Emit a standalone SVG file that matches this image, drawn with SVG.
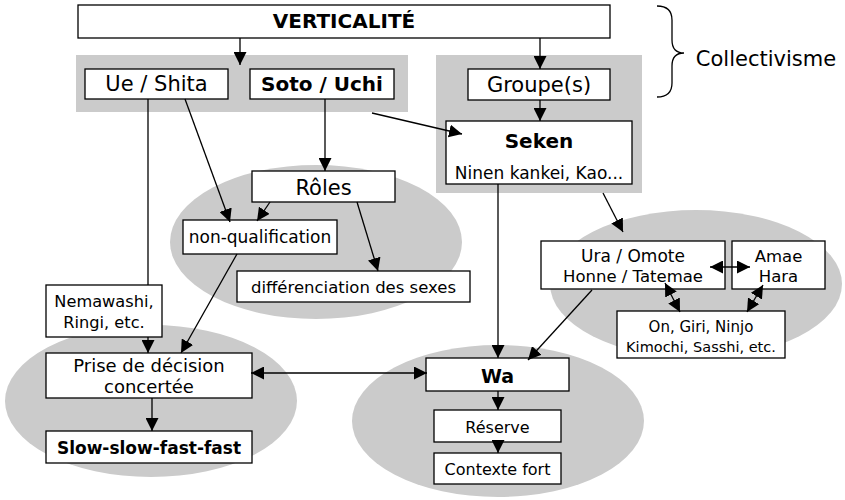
<svg xmlns="http://www.w3.org/2000/svg" width="845" height="500" viewBox="0 0 845 500">
<style>
.bg{fill:#cbcbcb;stroke:none}
.box{fill:#fff;stroke:#000;stroke-width:1.3}
text{font-family:"DejaVu Sans",Verdana,sans-serif;fill:#000;text-anchor:middle}
.b{font-weight:bold}
.c{stroke:#000;stroke-width:1.3;fill:none}
.a{marker-end:url(#ah)}
.d{marker-end:url(#ah);marker-start:url(#ah)}
</style>
<defs>
<marker id="ah" markerUnits="userSpaceOnUse" markerWidth="13" markerHeight="13" refX="13" refY="6.5" orient="auto-start-reverse">
<path d="M0,0 L13,6.5 L0,13 z" fill="#000"/>
</marker>
</defs>
<g id="backgrounds">
<rect class="bg" x="76" y="55" width="332" height="57"/>
<rect class="bg" x="436" y="55" width="206" height="138"/>
<ellipse class="bg" cx="316" cy="242" rx="146" ry="77"/>
<ellipse class="bg" cx="696" cy="284" rx="146" ry="74"/>
<ellipse class="bg" cx="151" cy="401" rx="146" ry="76"/>
<ellipse class="bg" cx="498" cy="421" rx="146" ry="76"/>
</g>
<g id="verticalite"><rect class="box" x="78" y="5" width="532" height="33"/><text class="b" x="344" y="28" font-size="20">VERTICALITÉ</text></g>
<g id="ue-shita"><rect class="box" x="85" y="69" width="143" height="30"/><text x="156.5" y="91" font-size="21">Ue / Shita</text></g>
<g id="soto-uchi"><rect class="box" x="250" y="69" width="144" height="30"/><text class="b" x="322" y="91" font-size="20">Soto / Uchi</text></g>
<g id="groupes"><rect class="box" x="468" y="69" width="142" height="31"/><text x="539" y="92" font-size="21">Groupe(s)</text></g>
<g id="seken"><rect class="box" x="446" y="121" width="186" height="63"/><text class="b" x="539" y="148" font-size="20">Seken</text><text x="539" y="179" font-size="17">Ninen kankei, Kao...</text></g>
<g id="collectivisme"><path class="c" d="M657,6 Q672,6 672,20 L672,40 Q672,53 684,53 Q672,53 672,66 L672,83 Q672,97 657,97"/><text x="766" y="66" font-size="21">Collectivisme</text></g>
<g id="roles"><rect class="box" x="252" y="171" width="143" height="31"/><text x="323.5" y="195" font-size="21">Rôles</text></g>
<g id="non-qualification"><rect class="box" x="183" y="220" width="154" height="34"/><text x="260" y="243" font-size="17">non-qualification</text></g>
<g id="differenciation"><rect class="box" x="237" y="271" width="233" height="31"/><text x="353.5" y="293" font-size="16.5">différenciation des sexes</text></g>
<g id="nemawashi"><rect class="box" x="46" y="285" width="116" height="52"/><text x="104" y="307" font-size="16.2">Nemawashi,</text><text x="104" y="328" font-size="16.2">Ringi, etc.</text></g>
<g id="prise"><rect class="box" x="46" y="353" width="206" height="45"/><text x="149" y="372" font-size="18">Prise de décision</text><text x="149" y="393" font-size="18">concertée</text></g>
<g id="slow"><rect class="box" x="46" y="431" width="206" height="32"/><text class="b" x="149" y="454" font-size="17">Slow-slow-fast-fast</text></g>
<g id="wa"><rect class="box" x="426" y="358" width="143" height="33"/><text class="b" x="497.5" y="383" font-size="19">Wa</text></g>
<g id="reserve"><rect class="box" x="434" y="410" width="127" height="32"/><text x="497.5" y="433" font-size="16">Réserve</text></g>
<g id="contexte"><rect class="box" x="434" y="453" width="127" height="31"/><text x="497.5" y="475" font-size="16">Contexte fort</text></g>
<g id="ura-omote"><rect class="box" x="541" y="241" width="184" height="48"/><text x="633" y="262" font-size="17">Ura / Omote</text><text x="633" y="282" font-size="16.5">Honne / Tatemae</text></g>
<g id="amae"><rect class="box" x="732" y="241" width="93" height="48"/><text x="778.5" y="262" font-size="16.5">Amae</text><text x="778.5" y="282" font-size="16.5">Hara</text></g>
<g id="on-giri"><rect class="box" x="617" y="311" width="168" height="47"/><text x="701" y="332" font-size="15">On, Giri, Ninjo</text><text x="701" y="352" font-size="14.5">Kimochi, Sasshi, etc.</text></g>
<g id="connectors">
<line class="c a" x1="240" y1="38" x2="240" y2="65"/>
<line class="c a" x1="540" y1="38" x2="540" y2="69"/>
<line class="c a" x1="540" y1="100" x2="540" y2="121"/>
<line class="c a" x1="372" y1="113" x2="462" y2="134"/>
<line class="c a" x1="325" y1="99" x2="325" y2="171"/>
<line class="c a" x1="185" y1="99" x2="230" y2="222"/>
<line class="c a" x1="270" y1="202" x2="257" y2="221"/>
<line class="c a" x1="357" y1="202" x2="378" y2="271"/>
<line class="c" x1="148" y1="99" x2="148" y2="285"/>
<line class="c a" x1="148" y1="337" x2="148" y2="353"/>
<line class="c a" x1="237" y1="254" x2="181" y2="353"/>
<line class="c a" x1="152" y1="398" x2="152" y2="431"/>
<line class="c d" x1="251" y1="373" x2="427" y2="373"/>
<line class="c a" x1="498" y1="184" x2="498" y2="358"/>
<line class="c a" x1="592" y1="290" x2="528" y2="360"/>
<line class="c a" x1="498" y1="391" x2="498" y2="410"/>
<line class="c a" x1="498" y1="442" x2="498" y2="453"/>
<line class="c a" x1="603" y1="193" x2="623" y2="232"/>
<line class="c d" x1="710" y1="267" x2="750" y2="267"/>
<line class="c d" x1="665" y1="283" x2="680" y2="312"/>
<line class="c d" x1="763" y1="285" x2="747" y2="312"/>
</g>
</svg>
